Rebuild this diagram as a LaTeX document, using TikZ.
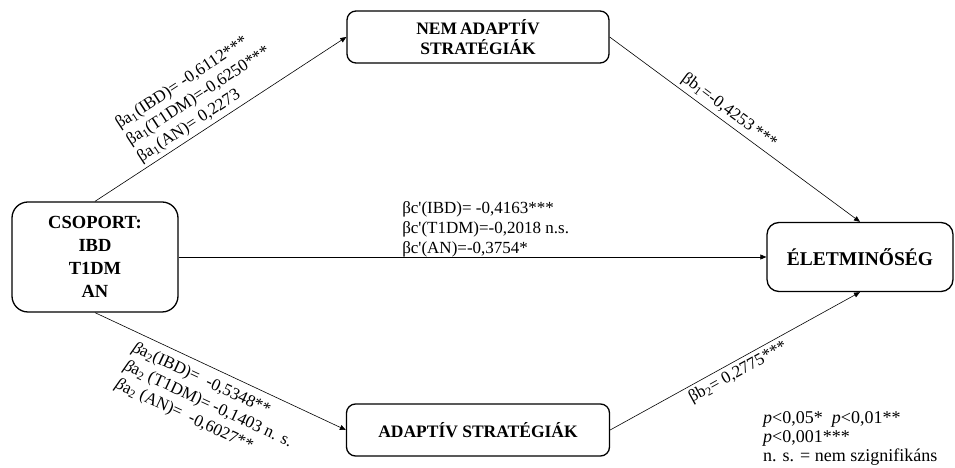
\documentclass[tikz,border=0pt]{standalone}
\usepackage{fontspec}
\setmainfont{Liberation Serif}
\usetikzlibrary{arrows.meta}

\begin{document}
\begin{tikzpicture}[
        x=1pt, y=1pt,
        box/.style={draw, line width=1.3pt, rounded corners=9pt, align=center, font=\fontsize{17.5}{19.5}\selectfont\bfseries},
        link/.style={-{Triangle[length=6pt, width=5pt]}, line width=0.6pt},
        coef/.style={align=left, font=\fontsize{17}{20}\selectfont}
    ]

    \useasboundingbox (0,0) rectangle (955,468);

    % Csoport (bal oldal)
    \node[box, rounded corners=16pt, minimum width=166pt, minimum height=110pt, font=\fontsize{18.5}{23}\selectfont\bfseries] (group) at (95, 211) {CSOPORT:\\IBD\\T1DM\\AN};

    % Nem adaptiv strategiak (fent)
    \node[box, minimum width=262pt, minimum height=52pt] (maladaptive) at (478, 431) {NEM\,ADAPTÍV\\STRATÉGIÁK};

    % Adaptiv strategiak (lent)
    \node[box, minimum width=263pt, minimum height=52pt] (adaptive) at (478, 38) {ADAPTÍV STRATÉGIÁK};

    % Eletminoseg (jobb oldal)
    \node[box, rounded corners=12pt, minimum width=186pt, minimum height=69pt, font=\fontsize{19.5}{22}\selectfont\bfseries] (qol) at (860, 211) {ÉLETMINŐSÉG};

    % a-utak
    \draw[link] (group.north) -- node[coef, pos=0.48, above, sloped] {βa\textsubscript{1}(IBD)= -0,6112***\\βa\textsubscript{1}(T1DM)=-0,6250***\\βa\textsubscript{1}(AN)= 0,2273} (maladaptive.west);
    \draw[link] (group.south) -- node[coef, pos=0.51, below=4pt, sloped] {\textit{β}a\textsubscript{2}(IBD)=\ \ -0,5348**\\\textit{β}a\textsubscript{2} (T1DM)= -0,1403 n. s.\\\textit{β}a\textsubscript{2} (AN)=\ \ -0,6027**} (adaptive.west);

    % b-utak
    \draw[link] (maladaptive.east) -- node[coef, pos=0.45, above, sloped] {βb\textsubscript{1}=-0,4253\,***} (qol.north);
    \draw[link] (adaptive.east) -- node[coef, pos=0.49, below, sloped] {βb\textsubscript{2}= 0,2775***} (qol.south);

    % c'-ut
    \draw[link] (group.east) -- node[coef, pos=0.38, anchor=south west, inner sep=0pt] {βc\textquotesingle(IBD)= -0,4163***\\βc\textquotesingle(T1DM)=-0,2018 n.s.\\βc\textquotesingle(AN)=-0,3754*} (qol.west);

    % Jelmagyarazat
    \node[coef, anchor=north west, inner sep=2pt, font=\fontsize{18}{19}\selectfont] (legend) at (761, 59) {\textit{p}<0,05*\ \ \textit{p}<0,01**\\\textit{p}<0,001***\\n. s. = nem szignifikáns};

\end{tikzpicture}
\end{document}
